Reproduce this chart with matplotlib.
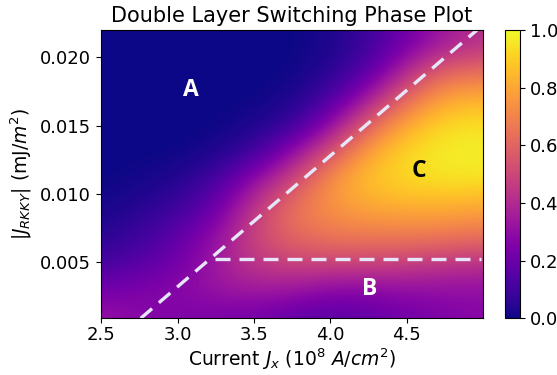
import numpy as np
import matplotlib
matplotlib.use("Agg")
import matplotlib.pyplot as plt

# Grid of current values (10^8 A/cm^2) and |J_RKKY| (mJ/m^2)
current = [2.5, 2.75, 3.0, 3.25, 3.5, 3.75, 4.0, 4.25, 4.5, 4.75, 5.0]
j_rkky = [0.001, 0.003, 0.005, 0.007, 0.009, 0.011, 0.013, 0.015, 0.017, 0.019, 0.021]

# switching probability, one row per j_rkky value (bottom to top)
row_001 = [0.32, 0.28, 0.25, 0.24, 0.22, 0.18, 0.15, 0.18, 0.22, 0.25, 0.28]
row_003 = [0.22, 0.25, 0.28, 0.32, 0.35, 0.33, 0.28, 0.28, 0.30, 0.30, 0.30]
row_005 = [0.10, 0.15, 0.22, 0.35, 0.45, 0.50, 0.50, 0.50, 0.48, 0.45, 0.43]
row_007 = [0.04, 0.09, 0.17, 0.30, 0.50, 0.62, 0.67, 0.68, 0.68, 0.67, 0.65]
row_009 = [0.01, 0.04, 0.09, 0.20, 0.45, 0.65, 0.75, 0.80, 0.82, 0.82, 0.80]
row_011 = [0.00, 0.01, 0.03, 0.11, 0.30, 0.50, 0.75, 0.88, 0.93, 0.95, 0.95]
row_013 = [0.00, 0.00, 0.00, 0.02, 0.09, 0.30, 0.55, 0.80, 0.93, 0.98, 0.98]
row_015 = [0.00, 0.00, 0.00, 0.00, 0.02, 0.07, 0.30, 0.60, 0.82, 0.93, 0.95]
row_017 = [0.00, 0.00, 0.00, 0.00, 0.00, 0.02, 0.11, 0.35, 0.62, 0.80, 0.82]
row_019 = [0.00, 0.00, 0.00, 0.00, 0.00, 0.00, 0.04, 0.15, 0.40, 0.60, 0.62]
row_021 = [0.00, 0.00, 0.00, 0.00, 0.00, 0.00, 0.02, 0.09, 0.22, 0.35, 0.42]

# phase boundaries
diag_x = [2.757, 4.962]
diag_y = [0.0009, 0.022]
horiz_x = [3.247, 4.985]
horiz_y = [0.00526, 0.00526]

region_labels = ["A", "B", "C"]
region_x = [3.085, 4.261, 4.58]
region_y = [0.01761, 0.00305, 0.01168]
region_colors = ["white", "white", "black"]

Z = np.array([row_001, row_003, row_005, row_007, row_009, row_011,
              row_013, row_015, row_017, row_019, row_021])

fig = plt.figure(figsize=(5.57, 3.75), dpi=100)
ax = fig.add_axes([0.1808, 0.151, 0.686, 0.769])
cax = fig.add_axes([0.907, 0.151, 0.027, 0.769])

dx = (current[1] - current[0]) / 2
dy = (j_rkky[1] - j_rkky[0]) / 2
im = ax.imshow(Z, origin="lower", cmap="plasma", vmin=0, vmax=1,
               extent=[current[0] - dx, current[-1] + dx, j_rkky[0] - dy, j_rkky[-1] + dy],
               aspect="auto", interpolation="bicubic")
ax.set_xlim(2.495, 5.0)
ax.set_ylim(0.0009, 0.022)

dash = (0, (4.5, 2.7))
ax.plot(diag_x, diag_y, color="#e6e6fa", lw=2.4, linestyle=dash)
ax.plot(horiz_x, horiz_y, color="#e6e6fa", lw=2.4, linestyle=dash)

for lab, x, y, c in zip(region_labels, region_x, region_y, region_colors):
    ax.text(x, y, lab, color=c, fontsize=16.5, fontweight="bold",
            family=["Open Sans", "DejaVu Sans"], ha="center", va="center")

ax.set_xticks([2.5, 3.0, 3.5, 4.0, 4.5])
ax.set_yticks([0.005, 0.010, 0.015, 0.020])
ax.tick_params(labelsize=13)
ax.tick_params(axis="x", pad=2)
ax.set_title("Double Layer Switching Phase Plot", fontsize=15)
ax.set_xlabel(r"Current $J_x$ ($10^8$ $A/cm^2$)", fontsize=13.5, labelpad=2)
ax.set_ylabel(r"$|J_{RKKY}|$ (mJ/$m^2$)", fontsize=13.5)

cb = fig.colorbar(im, cax=cax)
cb.set_ticks([0.0, 0.2, 0.4, 0.6, 0.8, 1.0])
cb.ax.tick_params(labelsize=13)

fig.savefig("out.png", dpi=100)
